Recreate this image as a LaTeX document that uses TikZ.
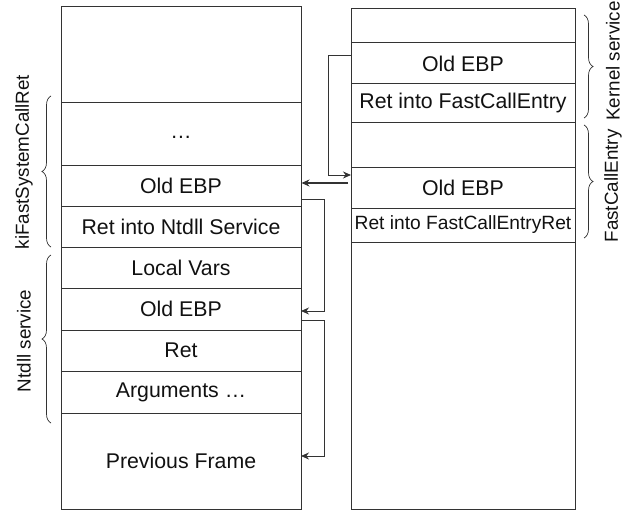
\documentclass[tikz,border=0pt]{standalone}
\usepackage{fontspec}
\setmainfont{Liberation Sans}
\usetikzlibrary{arrows.meta,decorations.pathreplacing}
\definecolor{lc}{HTML}{333333}
\definecolor{tc}{HTML}{111111}
\begin{document}
\begin{tikzpicture}[x=1pt,y=-1pt,
  cell/.style={draw=lc, line width=1pt, inner sep=0pt, text=tc, font=\fontsize{21.3}{25}\selectfont},
  lcell/.style={cell, minimum width=240pt},
  rcell/.style={cell, minimum width=224pt},
  arr/.style={draw=lc, line width=1pt, -{Stealth[length=8pt,width=7pt]}},
  brc/.style={draw=lc, line width=0.7pt, decorate, decoration={brace, amplitude=9pt}},
  lab/.style={rotate=90, text=tc, inner sep=0pt, font=\fontsize{18.8}{22}\selectfont}]
\useasboundingbox (0,0) rectangle (627,511);
% left column
\node[lcell, minimum height=96pt] (L0) at (181,55) {};
\node[lcell, minimum height=62pt] (L1) at (181,134) {\smash{\raisebox{-5pt}{\dots}}};
\node[lcell, minimum height=41pt] (L2) at (181,185.5) {Old EBP};
\node[lcell, minimum height=41pt] (L3) at (181,226.5) {Ret into Ntdll Service};
\node[lcell, minimum height=41pt] (L4) at (181,267.5) {Local Vars};
\node[lcell, minimum height=42pt] (L5) at (181,309) {Old EBP};
\node[lcell, minimum height=41pt] (L6) at (181,350.5) {Ret};
\node[lcell, minimum height=42pt] (L7) at (181,392) {Arguments \dots};
\node[lcell, minimum height=96pt] (L8) at (181,461) {Previous Frame};
% right column
\node[rcell, minimum height=34pt] (R0) at (463,26) {};
\node[rcell, minimum height=41pt] (R1) at (463,63.5) {Old EBP};
\node[rcell, minimum height=38pt] (R2) at (463,103) {Ret into FastCallEntry};
\node[rcell, minimum height=45pt] (R3) at (463,144.5) {};
\node[rcell, minimum height=41pt] (R4) at (463,187.5) {Old EBP};
\node[rcell, minimum height=34pt, font=\fontsize{19.2}{22}\selectfont] (R5) at (463,225) {Ret into FastCallEntryRet};
\node[rcell, minimum height=267pt] (R6) at (463,375.5) {};
% arrows
\coordinate (a1s) at (348,183);
\draw[arr, line width=1.8pt] (a1s) -- (L2.east |- a1s);
\coordinate (a2s) at (351,56);
\coordinate (a2e) at (351,175);
\draw[arr] (a2s) -- ++(-23,0) |- (a2e);
\coordinate (a3s) at (301,199);
\coordinate (a3e) at (301,311);
\draw[arr] (a3s) -- ++(23,0) |- (a3e);
\coordinate (a4s) at (301,320);
\coordinate (a4e) at (301,456);
\draw[arr] (a4s) -- ++(23,0) |- (a4e);
% braces
\coordinate (b1a) at (51,247); \coordinate (b1b) at (51,96);
\draw[brc] (b1a) -- (b1b);
\coordinate (b2a) at (51,423); \coordinate (b2b) at (51,255);
\draw[brc] (b2a) -- (b2b);
\coordinate (b3a) at (584,15); \coordinate (b3b) at (584,118);
\draw[brc] (b3a) -- (b3b);
\coordinate (b4a) at (584,125); \coordinate (b4b) at (584,238);
\draw[brc] (b4a) -- (b4b);
% labels
\node[lab] (t1) at (24,162) {kiFastSystemCallRet};
\node[lab] (t2) at (24,341) {Ntdll service};
\node[lab] (t3) at (613,61) {Kernel service};
\node[lab] (t4) at (613,186) {FastCallEntry};
\end{tikzpicture}
\end{document}
